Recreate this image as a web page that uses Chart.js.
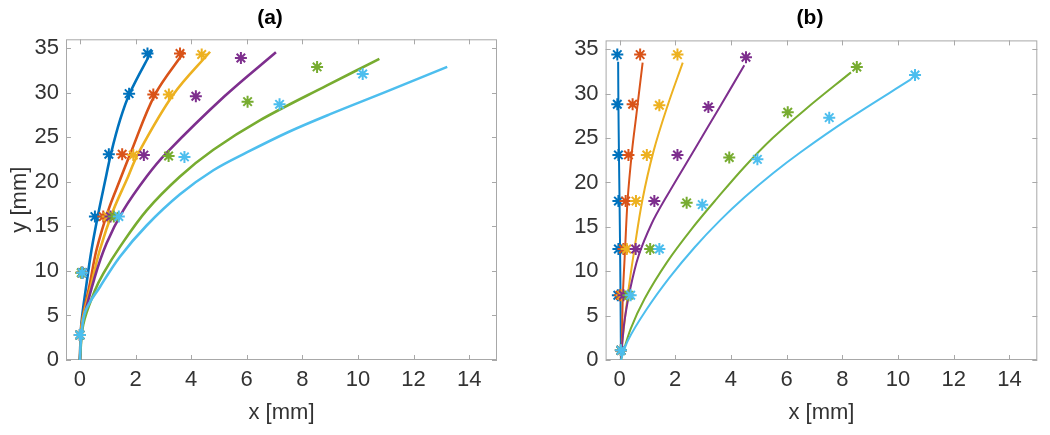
<!DOCTYPE html>
<html>
<head>
<meta charset="utf-8">
<script src="https://cdn.jsdelivr.net/npm/chart.js@4"></script>
<style>
body { margin: 0; background: #fff; width: 1050px; height: 435px; position: relative; overflow: hidden; }
.panel { position: absolute; top: 0; width: 525px; height: 435px; }
.title { position: absolute; top: 4px; width: 100px; margin-left: -50px; text-align: center;
         font: bold 21px 'Liberation Sans', Arial, sans-serif; color: #000; line-height: 25px; }
</style>
</head>
<body>
<div class="panel" style="left:0"><canvas id="chartA" width="525" height="435"></canvas></div>
<div class="panel" style="left:525px"><canvas id="chartB" width="525" height="435"></canvas></div>
<div class="title" style="left:270px">(a)</div>
<div class="title" style="left:810px">(b)</div>
<script>
const seriesColors = ['#0072BD', '#D95319', '#EDB120', '#7E2F8E', '#77AC30', '#4DBEEE'];
const xTicks = [0, 2, 4, 6, 8, 10, 12, 14];
const yTicks = [0, 5, 10, 15, 20, 25, 30, 35];

// (a) fitted curves, [x, y] in mm
const aLineBlue   = [[0,0],[0.05,4],[0.24,8.6],[0.42,12.4],[0.66,16.4],[0.9,20],[1.12,23.2],[1.45,27],[1.8,30],[2.6,34.8]];
const aLineOrange = [[0,0],[0.06,4],[0.36,8.6],[0.6,12.4],[1.02,16.8],[1.44,20.2],[1.82,23.2],[2.7,29.8],[3.75,34.6]];
const aLineYellow = [[0,0],[0.07,4],[0.42,8.6],[0.72,12.4],[1.2,16.8],[1.68,20.2],[2.1,23.2],[3.36,29.8],[4.68,34.6]];
const aLinePurple = [[0,0],[0.1,4],[0.54,9.35],[0.96,13.1],[1.56,16.8],[2.4,20.6],[3.1,23.2],[5.2,29.6],[7.05,34.55]];
const aLineGreen  = [[0,0],[0.12,4],[0.54,7.8],[0.84,9.7],[1.44,12.7],[2.4,16.8],[3.6,20.6],[4.8,23.6],[6.47,26.9],[8.87,30.8],[10.77,33.8]];
const aLineCyan   = [[0,0],[0.05,2.7],[0.2,5.5],[0.72,8.2],[1.44,11.6],[2.4,15.1],[3.6,18.6],[4.8,21.3],[6.0,23.3],[7.5,25.6],[9.0,27.6],[11.0,30.1],[13.21,32.9]];

// (a) measured points
const aPtsBlue   = [[0,2.8],[0.1,9.8],[0.54,16.1],[1.04,23.1],[1.77,29.9],[2.43,34.4]];
const aPtsOrange = [[0,2.8],[0.08,9.8],[0.84,16.1],[1.52,23.1],[2.64,29.8],[3.6,34.4]];
const aPtsYellow = [[0,2.8],[0.06,9.8],[1.0,16.1],[1.92,23.0],[3.2,29.8],[4.38,34.3]];
const aPtsPurple = [[0,2.8],[0.07,9.8],[1.1,16.1],[2.3,23.0],[4.17,29.6],[5.79,33.9]];
const aPtsGreen  = [[0,2.8],[0.05,9.8],[1.22,16.1],[3.19,22.9],[6.03,29.0],[8.53,32.9]];
const aPtsCyan   = [[0,2.8],[0.08,9.8],[1.4,16.1],[3.76,22.8],[7.18,28.7],[10.17,32.1]];

// (b) fitted curves
const bLineBlue   = [[0.05,0],[0.04,5],[0.02,12.5],[0,18],[-0.02,23],[-0.04,28.8],[-0.05,33.6]];
const bLineOrange = [[0.05,0],[0.08,1.6],[0.12,7.3],[0.2,12.5],[0.29,18],[0.45,23.6],[0.6,27.5],[0.83,33.5]];
const bLineYellow = [[0.05,0],[0.1,2],[0.3,7.4],[0.53,12.4],[0.82,18],[1.22,23.5],[1.72,28.6],[2.27,33.5]];
const bLinePurple = [[0.05,0],[0.17,4.2],[0.38,7.95],[0.68,11.7],[1.16,15.4],[1.63,18.1],[2.71,23.8],[3.6,28.5],[4.48,33.2]];
const bLineGreen  = [[0.05,0],[0.4,3.5],[0.9,6.9],[1.7,11.0],[2.6,14.8],[3.5,18.2],[4.5,21.8],[5.5,25.0],[6.66,28.2],[8.31,32.4]];
const bLineCyan   = [[0.05,0],[0.3,2.2],[0.95,5.6],[1.8,9.3],[2.7,12.7],[3.6,15.7],[4.5,18.35],[5.5,21.0],[6.5,23.4],[8.2,27.1],[10.46,31.6]];

// (b) measured points
const bPtsBlue   = [[0.05,1.1],[-0.06,7.3],[-0.04,12.5],[-0.04,17.9],[-0.04,23.1],[-0.08,28.8],[-0.08,34.4]];
const bPtsOrange = [[0.05,1.1],[0.02,7.3],[0.14,12.5],[0.22,17.9],[0.32,23.1],[0.47,28.8],[0.74,34.4]];
const bPtsYellow = [[0.05,1.1],[0.08,7.3],[0.26,12.5],[0.59,17.9],[0.98,23.1],[1.43,28.7],[2.08,34.4]];
const bPtsPurple = [[0.05,1.1],[0.14,7.3],[0.58,12.5],[1.25,17.9],[2.08,23.1],[3.19,28.5],[4.54,34.1]];
const bPtsGreen  = [[0.05,1.1],[0.32,7.3],[1.1,12.5],[2.41,17.7],[3.94,22.8],[6.04,27.9],[8.52,33.0]];
const bPtsCyan   = [[0.05,1.1],[0.4,7.3],[1.43,12.5],[2.97,17.5],[4.95,22.6],[7.53,27.3],[10.61,32.1]];

const font = "'Liberation Sans', Arial, sans-serif";
const textColor = '#333';
const axisColor = '#a8a8a8';

// box + inward ticks on all four sides, like matlab
const framePlugin = {
    id: 'frame',
    beforeDatasetsDraw(chart) {
        const { ctx, chartArea: a, scales: { x, y } } = chart;
        ctx.save();
        ctx.strokeStyle = axisColor;
        ctx.lineWidth = 1;
        ctx.strokeRect(a.left + 0.5, a.top + 0.5, a.width - 1, a.height - 1);
        ctx.beginPath();
        xTicks.forEach(v => {
            const px = Math.round(x.getPixelForValue(v)) + 0.5;
            ctx.moveTo(px, a.bottom); ctx.lineTo(px, a.bottom - 5);
            ctx.moveTo(px, a.top); ctx.lineTo(px, a.top + 5);
        });
        yTicks.forEach(v => {
            const py = Math.round(y.getPixelForValue(v)) + 0.5;
            ctx.moveTo(a.left, py); ctx.lineTo(a.left + 5, py);
            ctx.moveTo(a.right, py); ctx.lineTo(a.right - 5, py);
        });
        ctx.stroke();
        ctx.restore();
    }
};

function toXY(arr) {
    return arr.map(p => ({ x: p[0], y: p[1] }));
}

function buildDatasets(lines, pts, lineWidth) {
    const sets = [];
    lines.forEach((ln, i) => {
        // later series drawn on top
        sets.push({
            data: toXY(ln),
            showLine: true,
            borderColor: seriesColors[i],
            borderWidth: lineWidth,
            pointRadius: 0,
            tension: 0.35,
            order: 100 - i * 2
        });
        sets.push({
            data: toXY(pts[i]),
            showLine: false,
            pointStyle: 'star',
            pointRadius: 6,
            borderColor: seriesColors[i],
            backgroundColor: seriesColors[i],
            pointBorderWidth: 2,
            order: 99 - i * 2
        });
    });
    return sets;
}

function makeChart(id, datasets, showYTitle, yWidth, padTop, padRight) {
    return new Chart(document.getElementById(id), {
        type: 'scatter',
        data: { datasets },
        options: {
            responsive: false,
            animation: false,
            layout: { padding: { top: padTop, left: 0, right: padRight, bottom: 0 } },
            plugins: {
                legend: { display: false },
                tooltip: { enabled: false }
            },
            scales: {
                x: {
                    type: 'linear',
                    min: -0.5, max: 15,
                    grid: { display: false, drawTicks: false },
                    border: { display: false },
                    ticks: {
                        stepSize: 2, includeBounds: false, padding: 7,
                        color: textColor, font: { family: font, size: 22 }
                    },
                    title: {
                        display: true, text: 'x [mm]', color: textColor,
                        font: { family: font, size: 22 },
                        padding: { top: 0, bottom: 9 }
                    },
                    afterFit: s => { s.height = 75; }
                },
                y: {
                    type: 'linear',
                    min: 0, max: 36,
                    grid: { display: false, drawTicks: false },
                    border: { display: false },
                    ticks: {
                        stepSize: 5, includeBounds: false, padding: 7,
                        color: textColor, font: { family: font, size: 22 }
                    },
                    title: {
                        display: showYTitle, text: 'y [mm]', color: textColor,
                        font: { family: font, size: 22 },
                        padding: { top: 7, bottom: 0 }
                    },
                    afterFit: s => { s.width = yWidth; }
                }
            }
        },
        plugins: [framePlugin]
    });
}

document.addEventListener("DOMContentLoaded", () => {
    makeChart('chartA',
        buildDatasets([aLineBlue, aLineOrange, aLineYellow, aLinePurple, aLineGreen, aLineCyan],
                      [aPtsBlue, aPtsOrange, aPtsYellow, aPtsPurple, aPtsGreen, aPtsCyan], 2.6),
        true, 66, 39.3, 28);
    makeChart('chartB',
        buildDatasets([bLineBlue, bLineOrange, bLineYellow, bLinePurple, bLineGreen, bLineCyan],
                      [bPtsBlue, bPtsOrange, bPtsYellow, bPtsPurple, bPtsGreen, bPtsCyan], 2),
        false, 80.6, 40.4, 12.7);
});
</script>
</body>
</html>
